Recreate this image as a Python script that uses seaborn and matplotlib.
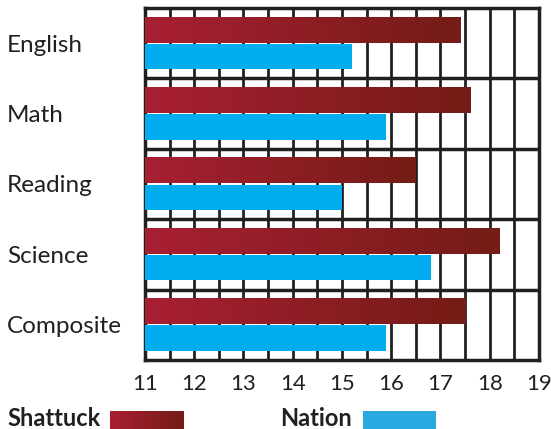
import numpy as np
import pandas as pd
import matplotlib
matplotlib.use("Agg")
import matplotlib.pyplot as plt
from matplotlib.colors import LinearSegmentedColormap
from matplotlib.ticker import MultipleLocator
import seaborn as sns

# data (ACT-style average scores)
subjects = ["English", "Math", "Reading", "Science", "Composite"]
shattuck = [17.4, 17.6, 16.5, 18.2, 17.5]
nation = [15.2, 15.9, 15.0, 16.8, 15.9]
groups = ["Shattuck", "Nation"]
x_ticks = [11, 12, 13, 14, 15, 16, 17, 18, 19]

df = pd.DataFrame({
    "subject": subjects * 2,
    "score": shattuck + nation,
    "group": [groups[0]] * len(subjects) + [groups[1]] * len(subjects),
})

ink = "#231f20"
red_grad = LinearSegmentedColormap.from_list("shattuck", ["#a81f33", "#741c16"])
blue = "#00aeef"

sns.set_theme(style="white")
plt.rcParams["font.family"] = ["Lato", "DejaVu Sans"]

fig = plt.figure(figsize=(5.51, 4.29), dpi=100)
ax = fig.add_axes([145 / 551, 1 - 360 / 429, 394 / 551, 352 / 429])

sns.barplot(
    data=df, y="subject", x="score", hue="group", orient="h",
    palette={"Shattuck": "#a81f33", "Nation": blue}, saturation=1,
    width=0.76, gap=0.05, linewidth=0, legend=False, ax=ax, zorder=3,
)

# replace Shattuck bars with a left-to-right gradient
grad = np.linspace(0, 1, 256).reshape(1, -1)
for patch in ax.containers[0]:
    x0, y0 = patch.get_x(), patch.get_y()
    w, h = patch.get_width(), patch.get_height()
    patch.set_visible(False)
    # bars start at 0, so the gradient starts at the visible axis start
    ax.imshow(grad, cmap=red_grad, aspect="auto",
              extent=[x_ticks[0], x0 + w, y0 + h, y0], zorder=3)
ax.set_xlim(x_ticks[0], x_ticks[-1])
ax.set_ylim(len(subjects) - 0.5, -0.5)

# grid: vertical every half point, horizontal between subjects
ax.xaxis.set_major_locator(MultipleLocator(1))
ax.xaxis.set_minor_locator(MultipleLocator(0.5))
ax.set_yticks(range(len(subjects)))
ax.set_yticks(np.arange(0.5, len(subjects) - 0.5, 1), minor=True)
ax.grid(True, which="both", axis="x", color=ink, linewidth=2, zorder=1)
ax.grid(True, which="minor", axis="y", color=ink, linewidth=2.5, zorder=1)
ax.set_axisbelow(True)
for s in ax.spines.values():
    s.set_visible(True)
    s.set_color(ink)
    s.set_linewidth(2.5)

ax.set_xticks(x_ticks)
ax.set_xticklabels([str(t) for t in x_ticks], fontsize=16, color=ink)
ax.set_yticklabels(subjects, fontsize=17.5, color=ink)
for lab in ax.get_yticklabels():
    lab.set_ha("left")
ax.tick_params(axis="x", which="both", length=0, pad=10)
ax.tick_params(axis="y", which="both", length=0, pad=138 * 0.72)
ax.set_xlabel("")
ax.set_ylabel("")

# legend
fig.text(7 / 551, 1 - 419 / 429, "Shattuck", fontsize=17, fontweight="bold",
         color=ink, va="center", ha="left")
sw1 = fig.add_axes([110 / 551, 1 - 429 / 429, 74 / 551, 18 / 429])
sw1.imshow(grad, cmap=red_grad, aspect="auto")
sw1.axis("off")
fig.text(280 / 551, 1 - 419 / 429, "Nation", fontsize=17, fontweight="bold",
         color=ink, va="center", ha="left")
sw2 = fig.add_axes([363 / 551, 1 - 429 / 429, 73 / 551, 18 / 429])
sw2.add_patch(plt.Rectangle((0, 0), 1, 1, color="#29a9e0"))
sw2.axis("off")

fig.savefig("out.png", dpi=100)
